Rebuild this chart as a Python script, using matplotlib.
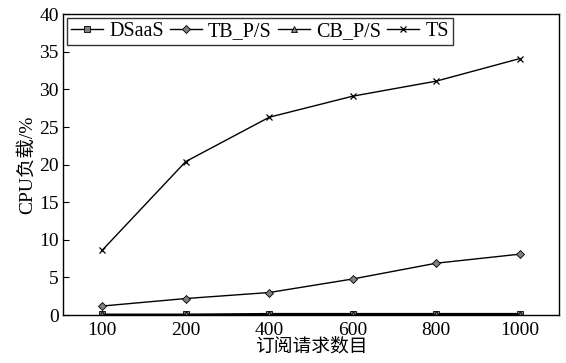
import numpy as np
import matplotlib.pyplot as plt

plt.rcParams['font.family'] = ['Liberation Serif', 'Noto Sans CJK SC']

requests = ['100', '200', '400', '600', '800', '1000']
dsaas = [0.1, 0.1, 0.2, 0.2, 0.2, 0.2]
tb_ps = [1.2, 2.2, 3.0, 4.8, 6.9, 8.1]
cb_ps = [0.1, 0.1, 0.1, 0.1, 0.1, 0.1]
ts = [8.6, 20.4, 26.3, 29.1, 31.1, 34.1]

x = np.arange(len(requests))

fig = plt.figure(figsize=(5.66, 3.63), dpi=100)
ax = fig.add_axes([0.111, 0.132, 0.877, 0.829])

mk = dict(color='black', lw=1.0, markerfacecolor='#808080',
          markeredgecolor='black', markeredgewidth=0.6)
ax.plot(x, dsaas, marker='s', markersize=4, label='DSaaS', **mk)
ax.plot(x, tb_ps, marker='D', markersize=4.5, label='TB_P/S', **mk)
ax.plot(x, cb_ps, marker='^', markersize=4.5, label='CB_P/S', **mk)
ax.plot(x, ts, marker='x', markersize=4.5, label='TS', color='black', lw=1.0,
        markeredgewidth=0.9)

ax.set_xlim(-0.47, 5.47)
ax.set_ylim(0, 40)
ax.set_xticks(x)
ax.set_xticklabels(requests)
ax.set_yticks(np.arange(0, 41, 5))
ax.tick_params(axis='y', direction='in', length=4, labelsize=14, pad=3)
ax.tick_params(axis='x', length=0, labelsize=14, pad=5)
for s in ax.spines.values():
    s.set_linewidth(1.0)

ax.set_xlabel('订阅请求数目', fontsize=13.5, labelpad=-1)
ax.set_ylabel('CPU负载/%', fontsize=14, labelpad=2)

leg = ax.legend(loc='upper left', ncol=4, fontsize=14.5, frameon=True,
                fancybox=False, edgecolor='black', handlelength=1.6,
                handletextpad=0.3, columnspacing=0.3, borderpad=0.2,
                borderaxespad=0.2)
leg.get_frame().set_linewidth(1.0)

fig.savefig('out.png', dpi=100)
